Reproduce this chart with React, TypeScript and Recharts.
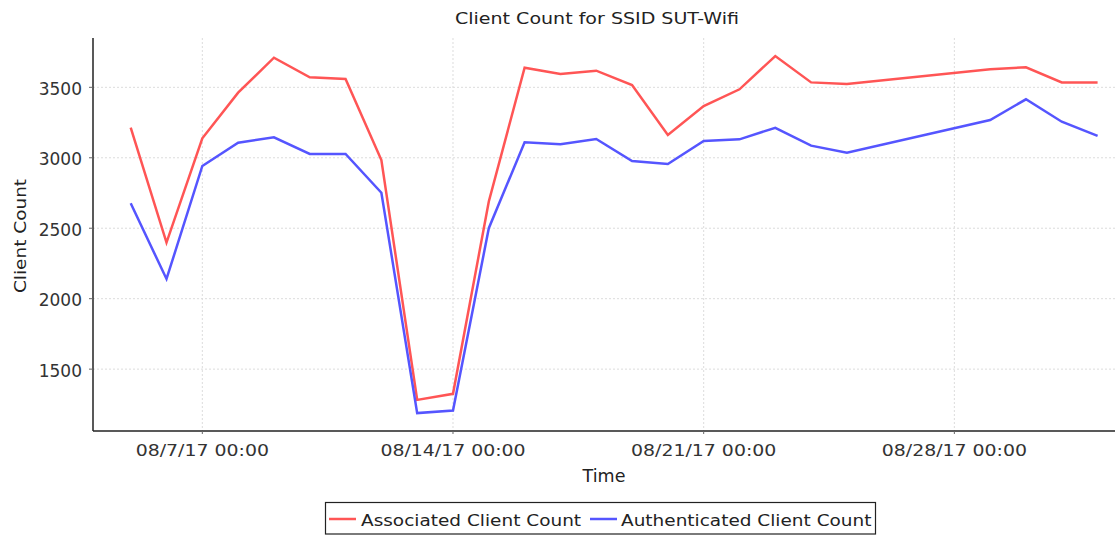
import React from "react";
import { LineChart, Line, XAxis, YAxis, CartesianGrid } from "recharts";

document.body.style.margin = "0";

const dates = [
  "2017-08-05", "2017-08-06", "2017-08-07", "2017-08-08", "2017-08-09",
  "2017-08-10", "2017-08-11", "2017-08-12", "2017-08-13", "2017-08-14",
  "2017-08-15", "2017-08-16", "2017-08-17", "2017-08-18", "2017-08-19",
  "2017-08-20", "2017-08-21", "2017-08-22", "2017-08-23", "2017-08-24",
  "2017-08-25", "2017-08-29", "2017-08-30", "2017-08-31", "2017-09-01",
];

const associated = [
  3214, 2398, 3138, 3462, 3710, 3571, 3559, 2984, 1282, 1325,
  2690, 3639, 3594, 3618, 3516, 3162, 3367, 3486, 3722, 3535,
  3523, 3628, 3642, 3535, 3535,
];

const authenticated = [
  2677, 2140, 2942, 3107, 3145, 3027, 3027, 2752, 1188, 1206,
  2500, 3110, 3096, 3133, 2977, 2956, 3119, 3131, 3213, 3086,
  3036, 3268, 3415, 3256, 3155,
];

const xTickDates = ["2017-08-07", "2017-08-14", "2017-08-21", "2017-08-28"];
const yTicks = [1500, 2000, 2500, 3000, 3500];

const toTime = (d: string) => Date.parse(d + "T00:00:00Z");

const data = dates.map((d, i) => ({
  t: toTime(d),
  associated: associated[i],
  authenticated: authenticated[i],
}));

const xTicks = xTickDates.map(toTime);
const xDomain = [Date.parse("2017-08-03T22:44:00Z"), Date.parse("2017-09-01T11:40:00Z")];

const FONT = "'DejaVu Sans', Verdana, sans-serif";
const RED = "#ff5555";
const BLUE = "#5555ff";

const formatDate = (v: number) => {
  const d = new Date(v);
  const mm = String(d.getUTCMonth() + 1).padStart(2, "0");
  const yy = String(d.getUTCFullYear()).slice(2);
  return `${mm}/${d.getUTCDate()}/${yy} 00:00`;
};

const XTick = ({ x, y, payload }: any) => (
  <text
    transform={`translate(${x} ${y + 19.7}) scale(1.22 1)`}
    textAnchor="middle"
    fontFamily={FONT}
    fontSize={15.5}
    fill="#333"
  >
    {formatDate(payload.value)}
  </text>
);

const YTick = ({ x, y, payload }: any) => (
  <text x={x} y={y + 7.5} textAnchor="end" fontFamily={FONT} fontSize={17} fill="#333">
    {payload.value}
  </text>
);

export default function App() {
  return (
    <div style={{ position: "relative", width: 1115, height: 536, background: "#fff" }}>
      <LineChart
        width={1115}
        height={536}
        data={data}
        margin={{ top: 38, right: 0, bottom: 0, left: 0 }}
      >
        <CartesianGrid
          stroke="#dcdcdc"
          strokeDasharray="2 2"
          horizontalValues={yTicks}
          verticalValues={xTicks}
        />
        <XAxis
          dataKey="t"
          type="number"
          domain={xDomain}
          ticks={xTicks}
          allowDataOverflow
          height={105}
          tick={<XTick />}
          tickSize={3}
          tickMargin={2}
          tickLine={{ stroke: "#666" }}
          axisLine={{ stroke: "#222", strokeWidth: 1.5 }}
          label={({ viewBox }: any) => (
            <text
              x={viewBox.x + viewBox.width / 2}
              y={viewBox.y + 50.7}
              textAnchor="middle"
              fontFamily={FONT}
              fontSize={17.5}
              fill="#222"
            >
              Time
            </text>
          )}
        />
        <YAxis
          type="number"
          domain={[1061, 3850]}
          ticks={yTicks}
          allowDataOverflow
          width={93}
          tick={<YTick />}
          tickSize={4}
          tickMargin={7}
          tickLine={{ stroke: "#666" }}
          axisLine={{ stroke: "#222", strokeWidth: 1.5 }}
          label={({ viewBox }: any) => (
            <text
              transform={`translate(25.5 ${viewBox.y + viewBox.height / 2 + 1.5}) rotate(-90) scale(1.12 1)`}
              textAnchor="middle"
              fontFamily={FONT}
              fontSize={16.5}
              fill="#222"
            >
              Client Count
            </text>
          )}
        />
        <Line
          type="linear"
          dataKey="associated"
          stroke={RED}
          strokeWidth={2.5}
          dot={false}
          isAnimationActive={false}
        />
        <Line
          type="linear"
          dataKey="authenticated"
          stroke={BLUE}
          strokeWidth={2.5}
          dot={false}
          isAnimationActive={false}
        />
      </LineChart>

      {/* title and legend drawn over the chart */}
      <svg
        width={1115}
        height={536}
        style={{ position: "absolute", left: 0, top: 0, pointerEvents: "none" }}
      >
        <text
          transform="translate(597 24) scale(1.27 1)"
          textAnchor="middle"
          fontFamily={FONT}
          fontSize={15}
          fill="#222"
        >
          Client Count for SSID SUT-Wifi
        </text>
        <rect x={325.5} y={502.5} width={550} height={31.5} fill="none" stroke="#222" strokeWidth={1.2} />
        <line x1={329} x2={356} y1={519} y2={519} stroke={RED} strokeWidth={2.5} />
        <text transform="translate(361 526) scale(1.12 1)" fontFamily={FONT} fontSize={16.5} fill="#222">
          Associated Client Count
        </text>
        <line x1={590} x2={617} y1={519} y2={519} stroke={BLUE} strokeWidth={2.5} />
        <text transform="translate(621 526) scale(1.12 1)" fontFamily={FONT} fontSize={16.5} fill="#222">
          Authenticated Client Count
        </text>
      </svg>
    </div>
  );
}
